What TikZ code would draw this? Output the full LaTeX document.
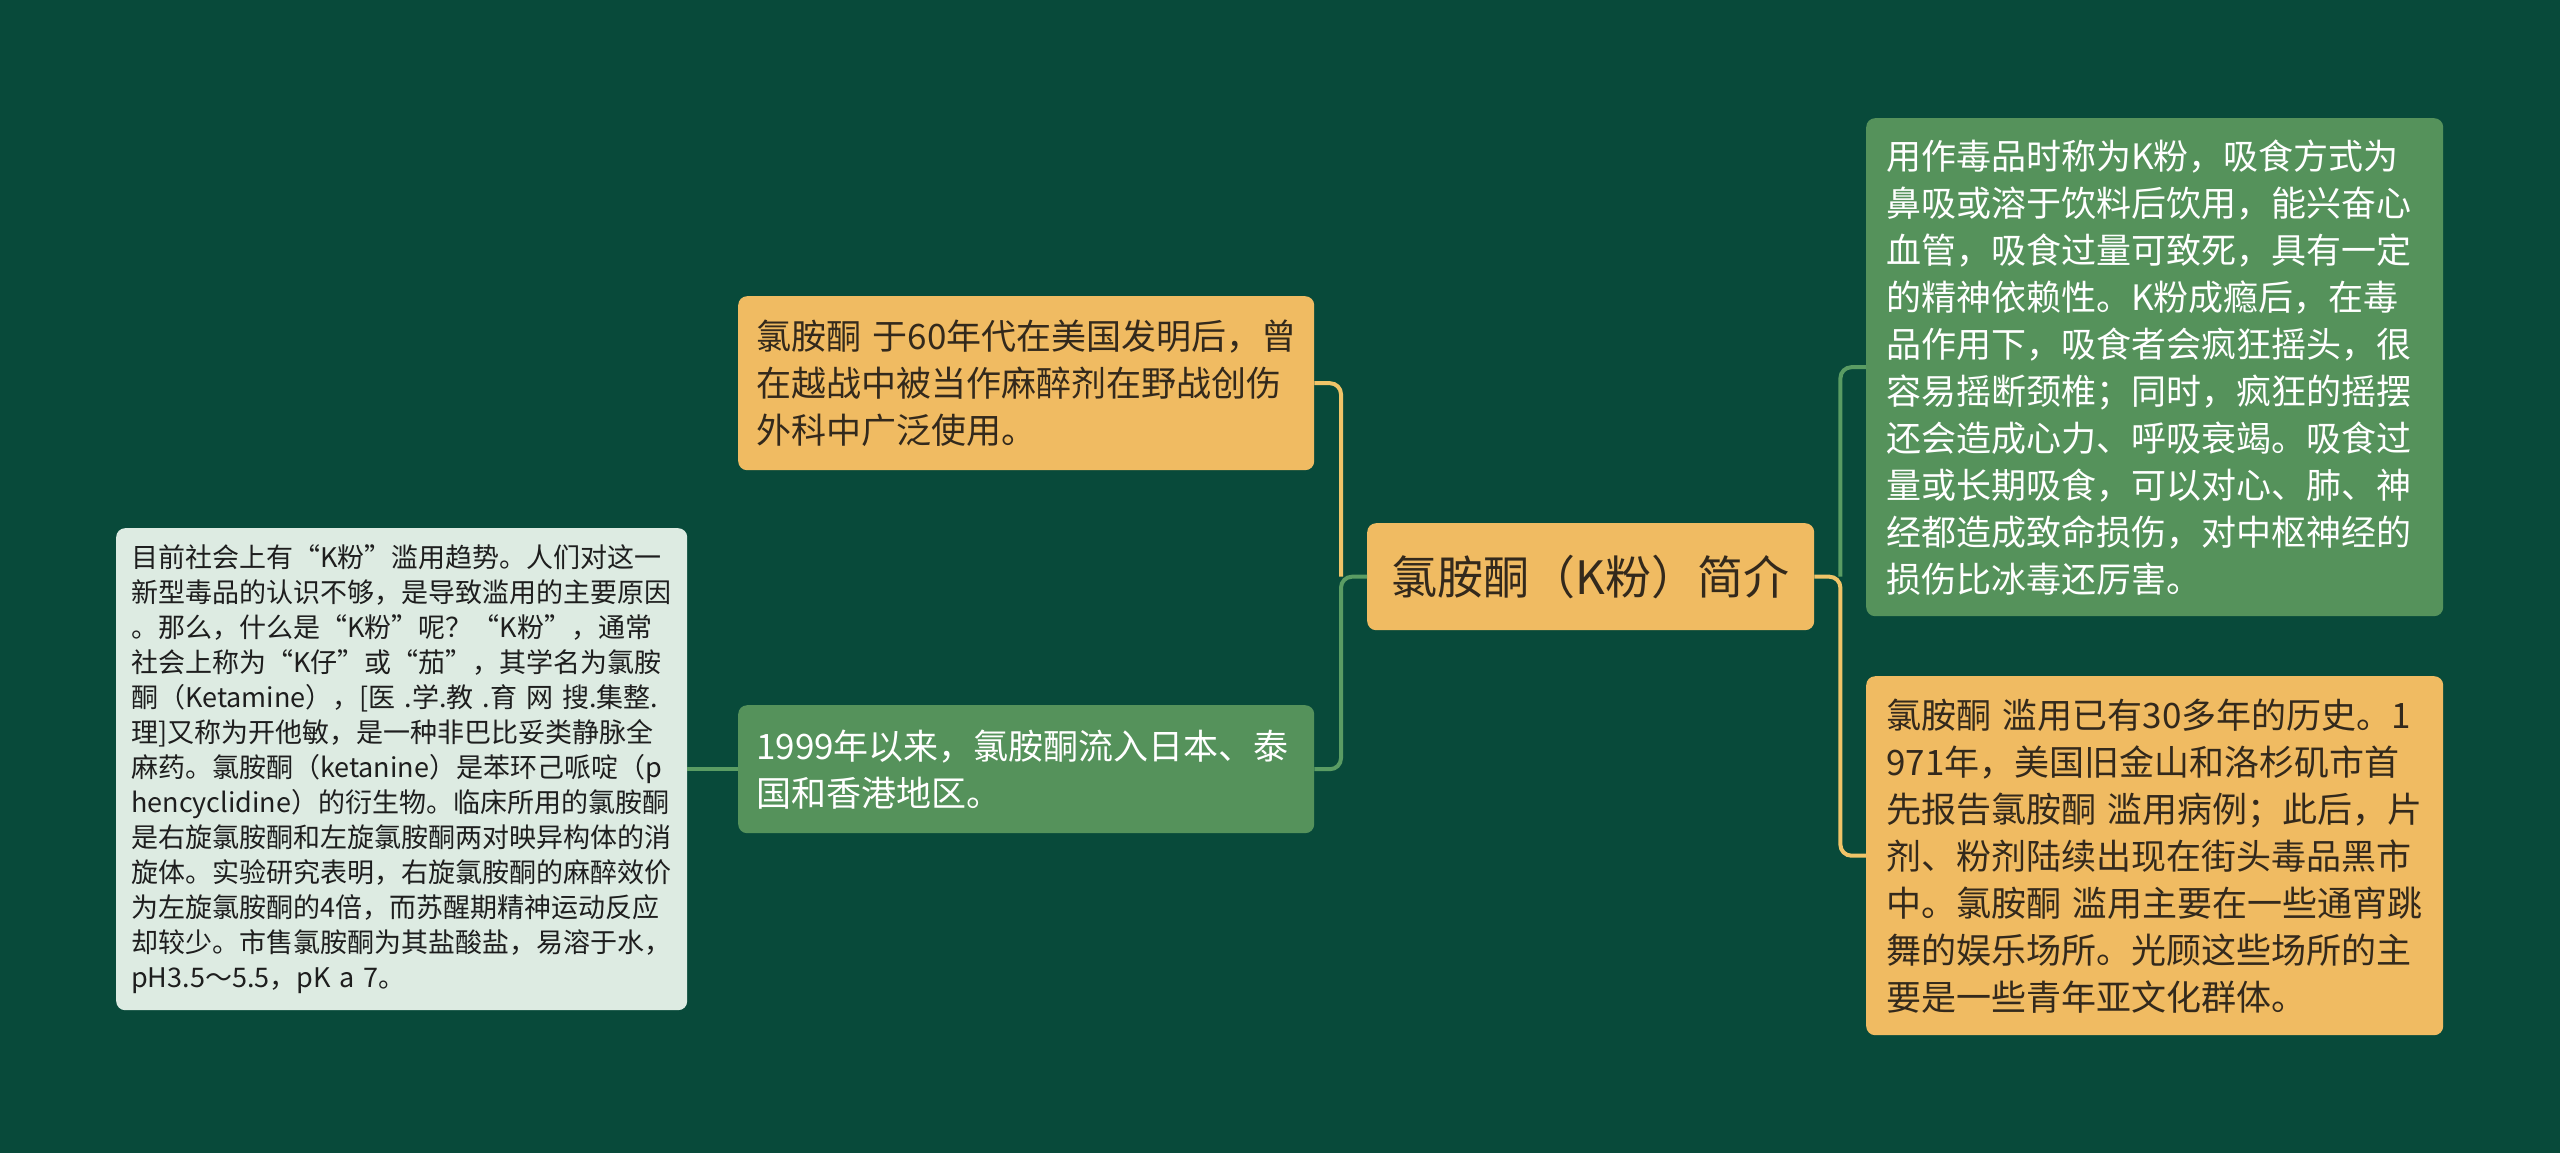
\documentclass[tikz,border=0pt]{standalone}
\usepackage{fontspec}
\setmainfont{Noto Sans CJK SC}
\definecolor{bgc}{HTML}{084A3A}
\definecolor{ylw}{HTML}{F0BB62}
\definecolor{grn}{HTML}{55925B}
\definecolor{lgt}{HTML}{DDEBE2}
\definecolor{ylink}{HTML}{F0C468}
\definecolor{glink}{HTML}{5A9C63}
\definecolor{dtxt}{HTML}{33291C}
\definecolor{ltxt}{HTML}{1E1E1E}
\tikzset{
  nbox/.style={rounded corners=9pt, anchor=north west, inner ysep=0pt, align=left,
    font=\fontsize{35pt}{47pt}\selectfont},
  ybox/.style={nbox, fill=ylw, text=dtxt},
  gbox/.style={nbox, fill=grn, text=white},
  lbox/.style={rounded corners=9pt, anchor=north west, inner ysep=0pt, align=left,
    fill=lgt, text=ltxt, font=\fontsize{27pt}{35pt}\selectfont},
  rootbox/.style={rounded corners=9pt, anchor=north west, inner sep=0pt, align=center,
    fill=ylw, text=dtxt, font=\fontsize{46pt}{55pt}\selectfont},
  ylinkst/.style={draw=ylink, line width=4pt, rounded corners=11pt},
  glinkst/.style={draw=glink, line width=4pt, rounded corners=11pt}
}
\begin{document}
\begin{tikzpicture}[x=1pt,y=-1pt]
\fill[bgc] (0,0) rectangle (2560,1153);
\useasboundingbox (0,0) rectangle (2560,1153);

\node[rootbox, minimum width=447pt, minimum height=107pt] (root) at (1367,523) {氯胺酮（K粉）简介};

\node[ybox, inner xsep=18pt, text width=540pt, minimum height=174pt] (tl) at (738,296)
  {氯胺酮 于60年代在美国发明后，曾\\在越战中被当作麻醉剂在野战创伤\\外科中广泛使用。};

\node[gbox, inner xsep=18pt, text width=540pt, minimum height=128pt] (bl) at (738,705)
  {1999年以来，氯胺酮流入日本、泰\\国和香港地区。};

\node[lbox, inner xsep=15pt, text width=541pt, minimum height=482pt] (fl) at (116,528)
  {目前社会上有“K粉”滥用趋势。人们对这一\\新型毒品的认识不够，是导致滥用的主要原因\\。那么，什么是“K粉”呢？“K粉”，通常\\社会上称为“K仔”或“茄”，其学名为氯胺\\酮（Ketamine），[医 .学.教 .育 网 搜.集整.\\理]又称为开他敏，是一种非巴比妥类静脉全\\麻药。氯胺酮（ketanine）是苯环己哌啶（p\\hencyclidine）的衍生物。临床所用的氯胺酮\\是右旋氯胺酮和左旋氯胺酮两对映异构体的消\\旋体。实验研究表明，右旋氯胺酮的麻醉效价\\为左旋氯胺酮的4倍，而苏醒期精神运动反应\\却较少。市售氯胺酮为其盐酸盐，易溶于水，\\pH3.5～5.5，pK a 7。};

\node[gbox, inner xsep=20pt, text width=537pt, minimum height=498pt] (rg) at (1866,118)
  {用作毒品时称为K粉，吸食方式为\\鼻吸或溶于饮料后饮用，能兴奋心\\血管，吸食过量可致死，具有一定\\的精神依赖性。K粉成瘾后，在毒\\品作用下，吸食者会疯狂摇头，很\\容易摇断颈椎；同时，疯狂的摇摆\\还会造成心力、呼吸衰竭。吸食过\\量或长期吸食，可以对心、肺、神\\经都造成致命损伤，对中枢神经的\\损伤比冰毒还厉害。};

\node[ybox, inner xsep=20pt, text width=537pt, minimum height=359pt] (ry) at (1866,676)
  {氯胺酮 滥用已有30多年的历史。1\\971年，美国旧金山和洛杉矶市首\\先报告氯胺酮 滥用病例；此后，片\\剂、粉剂陆续出现在街头毒品黑市\\中。氯胺酮 滥用主要在一些通宵跳\\舞的娱乐场所。光顾这些场所的主\\要是一些青年亚文化群体。};

\coordinate (lj) at ([xshift=-26pt]root.west);
\coordinate (rj) at ([xshift=26pt]root.east);

\draw[ylinkst] (lj) |- (tl.east);
\draw[glinkst] (root.west) -- (lj) |- (bl.east);
\draw[glinkst] (bl.west) -- (fl.east);
\draw[glinkst] (rj) |- (rg.west);
\draw[ylinkst] (root.east) -- (rj) |- (ry.west);
\end{tikzpicture}
\end{document}
